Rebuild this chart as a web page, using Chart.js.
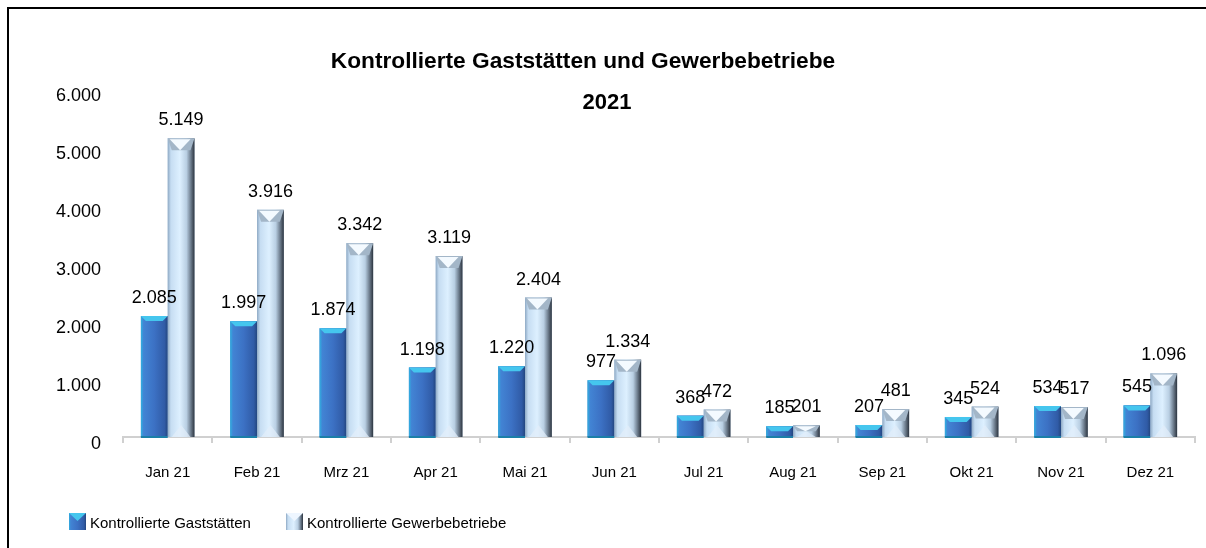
<!DOCTYPE html>
<html>
<head>
<meta charset="utf-8">
<script src="https://cdn.jsdelivr.net/npm/chart.js@4/dist/chart.umd.min.js"></script>
<style>
  html, body { margin: 0; padding: 0; background: #fff; }
  #wrap { position: relative; width: 1206px; height: 548px; }
</style>
</head>
<body>
<div id="wrap"><canvas id="chart"></canvas></div>
<script>
const months = ["Jan 21", "Feb 21", "Mrz 21", "Apr 21", "Mai 21", "Jun 21", "Jul 21", "Aug 21", "Sep 21", "Okt 21", "Nov 21", "Dez 21"];
const gaststaetten = [2085, 1997, 1874, 1198, 1220, 977, 368, 185, 207, 345, 534, 545];
const gewerbe = [5149, 3916, 3342, 3119, 2404, 1334, 472, 201, 481, 524, 517, 1096];
const titleLines = ["Kontrollierte Gaststätten und Gewerbebetriebe", "2021"];
const seriesNames = ["Kontrollierte Gaststätten", "Kontrollierte Gewerbebetriebe"];

const FONT = "'Liberation Sans', Arial, sans-serif";

function fmt(v) {
  return String(v).replace(/\B(?=(\d{3})+(?!\d))/g, ".");
}

function makeGradient(ctx, l, r, light) {
  const g = ctx.createLinearGradient(l, 0, r, 0);
  if (light) {
    g.addColorStop(0, "#8ea9c4");
    g.addColorStop(0.12, "#c6ddf2");
    g.addColorStop(0.45, "#ddf0ff");
    g.addColorStop(0.7, "#b9cfe3");
    g.addColorStop(0.85, "#738394");
    g.addColorStop(1, "#2c343f");
  } else {
    g.addColorStop(0, "#2fb0e0");
    g.addColorStop(0.1, "#4284d4");
    g.addColorStop(0.5, "#3c71c4");
    g.addColorStop(0.88, "#305ba6");
    g.addColorStop(1, "#23467f");
  }
  return g;
}

const decoPlugin = {
  id: "deco",
  beforeDraw(chart) {
    const ctx = chart.ctx;
    ctx.save();
    ctx.strokeStyle = "#000";
    ctx.lineWidth = 2;
    ctx.beginPath();
    ctx.moveTo(8, 600);
    ctx.lineTo(8, 8);
    ctx.lineTo(1210, 8);
    ctx.stroke();
    ctx.restore();
  },
  afterDatasetsDraw(chart) {
    const ctx = chart.ctx;
    ctx.save();
    chart.data.datasets.forEach((ds, di) => {
      const meta = chart.getDatasetMeta(di);
      meta.data.forEach((bar, i) => {
        const x = bar.x, y = bar.y, base = bar.base, w = bar.width;
        const l = x - w / 2, r = x + w / 2;
        const h = base - y;
        // shaded body over the library's bar
        ctx.fillStyle = makeGradient(ctx, l, r, di === 1);
        ctx.fillRect(l, y, w, h);
        if (di === 0) {
          const b = Math.min(5, h / 2);
          ctx.fillStyle = "#45c6ee";
          ctx.beginPath();
          ctx.moveTo(l, y); ctx.lineTo(r, y); ctx.lineTo(r - b, y + b); ctx.lineTo(l + b, y + b);
          ctx.closePath(); ctx.fill();
          ctx.fillStyle = "#1b7fa8";
          ctx.fillRect(l, base - 1, w, 2);
        } else {
          const b = Math.min(12, h / 2);
          ctx.fillStyle = "#a3b6c8";
          ctx.beginPath();
          ctx.moveTo(l, y); ctx.lineTo(r, y); ctx.lineTo(r - 4, y + b); ctx.lineTo(l + 4, y + b);
          ctx.closePath(); ctx.fill();
          ctx.fillStyle = "#f4faff";
          ctx.beginPath();
          ctx.moveTo(l + 2, y + 1); ctx.lineTo(r - 4, y + 1); ctx.lineTo(x - 1, y + b);
          ctx.closePath(); ctx.fill();
          ctx.fillStyle = "rgba(225,238,250,0.75)";
          ctx.beginPath();
          ctx.moveTo(l + 4, base); ctx.lineTo(r - 4, base); ctx.lineTo(x, base - b);
          ctx.closePath(); ctx.fill();
        }
      });
    });
    // value labels on top of everything
    ctx.fillStyle = "#000";
    ctx.font = "18px " + FONT;
    ctx.textAlign = "center";
    ctx.textBaseline = "alphabetic";
    chart.data.datasets.forEach((ds, di) => {
      chart.getDatasetMeta(di).data.forEach((bar, i) => {
        ctx.fillText(fmt(ds.data[i]), bar.x, bar.y - 13);
      });
    });
    ctx.restore();
  },
  afterDraw(chart) {
    const ctx = chart.ctx;
    ctx.save();
    // title
    ctx.fillStyle = "#000";
    ctx.font = "bold 22.7px " + FONT;
    ctx.textAlign = "center";
    ctx.textBaseline = "middle";
    ctx.fillText(titleLines[0], 583, 62);
    ctx.font = "bold 22px " + FONT;
    ctx.fillText(titleLines[1], 607, 103);
    // legend
    const items = [{ x: 69, light: false }, { x: 286, light: true }];
    ctx.font = "15px " + FONT;
    ctx.textAlign = "left";
    items.forEach((it, k) => {
      ctx.fillStyle = makeGradient(ctx, it.x, it.x + 17, it.light);
      ctx.fillRect(it.x, 513, 17, 17);
      ctx.fillStyle = it.light ? "#eef6ff" : "#45c6ee";
      ctx.beginPath();
      ctx.moveTo(it.x, 513); ctx.lineTo(it.x + 17, 513); ctx.lineTo(it.x + 8.5, 521);
      ctx.closePath(); ctx.fill();
      ctx.fillStyle = "#000";
      ctx.fillText(seriesNames[k], it.x + 21, 524);
    });
    ctx.restore();
  }
};

new Chart(document.getElementById("chart"), {
  type: "bar",
  data: {
    labels: months,
    datasets: [
      {
        label: seriesNames[0],
        data: gaststaetten,
        backgroundColor: "#3a6cc0",
        borderWidth: 0,
        barPercentage: 1,
        categoryPercentage: 0.6,
      },
      {
        label: seriesNames[1],
        data: gewerbe,
        backgroundColor: "#c2d9ee",
        borderWidth: 0,
        barPercentage: 1,
        categoryPercentage: 0.6,
      },
    ],
  },
  options: {
    responsive: true,
    maintainAspectRatio: false,
    animation: false,
    layout: { padding: { left: 34, right: 11, top: 89, bottom: 45 } },
    scales: {
      x: {
        grid: { display: true, offset: true, drawOnChartArea: false, drawTicks: true, tickLength: 6, color: "#d0d0d0", lineWidth: 2 },
        border: { display: true, color: "#d0d0d0", width: 2 },
        ticks: { color: "#000", font: { family: FONT, size: 15 }, padding: 21, maxRotation: 0 },
      },
      y: {
        min: 0,
        max: 6000,
        grid: { display: false, drawTicks: false },
        border: { display: false },
        ticks: {
          stepSize: 1000,
          color: "#000",
          font: { family: FONT, size: 18 },
          padding: 22,
          labelOffset: 7,
          callback: (v) => fmt(v),
        },
      },
    },
    plugins: {
      title: { display: false },
      tooltip: { enabled: false },
      legend: { display: false },
    },
  },
  plugins: [decoPlugin],
});
</script>
</body>
</html>
